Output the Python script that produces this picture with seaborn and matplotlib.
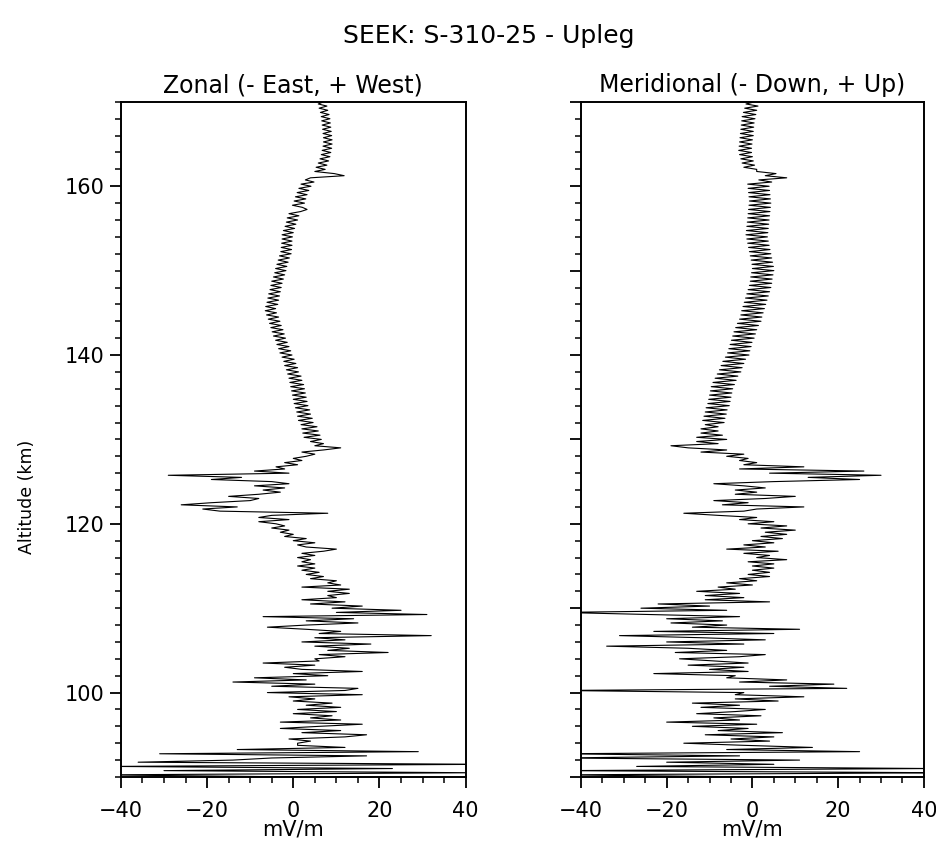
import numpy as np
import matplotlib
matplotlib.use("Agg")
import matplotlib.pyplot as plt
from matplotlib.ticker import MultipleLocator, NullFormatter
import seaborn as sns

sns.set_style("ticks")
plt.rcParams['font.family'] = ['DejaVu Sans']
plt.rcParams['text.color'] = 'black'
plt.rcParams['axes.labelcolor'] = 'black'
plt.rcParams['xtick.color'] = 'black'
plt.rcParams['ytick.color'] = 'black'

# altitude grid (km), one sample every 0.25 km
altitude = np.arange(90, 170.001, 0.25)

# zonal field (mV/m), 8 samples = 2 km per row
zonal = [
    2, -45, 42, -30, 23, -42, 45, -36,          # 90
    -14, -5, 17, -31, 29, -13, 12, 1,           # 92
    1, 4, -1, 12, 17, 2, 11, -3,                # 94
    6, 16, -3, 11, 4, 9, 0, 10,                 # 96
    1, 11, 3, 9, 0, 5, -1, 16,                  # 98
    -6, 12, 15, -5, 5, -14, 3, -9,              # 100
    8, 0, 16, 2, -2, 5, -7, 6,                  # 102
    5, 12, 6, 22, 8, 13, 5, 18,                 # 104
    2, 12, 5, 32, 6, 11, 3, -6,                 # 106
    3, 15, 3, 14, -7, 31, 10, 25,               # 108
    9, 16, 4, 12, 2, 10, 8, 13,                 # 110
    8, 13, 2, 11, 8, 10, 4, 7,                  # 112
    3, 6, 2, 5, 1, 5, 2, 4,                     # 114
    1, 5, 2, 7, 10, 3, 1, 5,                    # 116
    0, 3, -2, 0, -3, -1, -5, -2,                # 118
    -4, -8, -1, -8, -5, 8, -17, -21,            # 120
    -13, -26, -19, -10, -8, -15, -8, -3,        # 122
    -7, -2, -9, -1, -5, -19, -12, -29,          # 124
    -1, -9, -2, -4, 1, -2, 2, 0,                # 126
    3, 5, 2, 7, 11, 5, 7, 4,                    # 128
    6.5, 2.5, 6.2, 2.2, 5.8, 2.0, 5.5, 1.8,     # 130
    4.6, 1.2, 4.4, 1.0, 4.0, 0.8, 3.8, 0.5,     # 132
    3.4, 0.2, 3.2, 0.0, 3.0, -0.2, 2.8, -0.4,   # 134
    2.6, -0.6, 2.4, -0.8, 2.0, -1.0, 1.8, -1.3, # 136
    1.2, -1.6, 1.0, -2.0, 0.6, -2.2, 0.2, -2.6, # 138
    -0.3, -3.1, -0.6, -3.4, -1.0, -3.8, -1.4, -4.1,  # 140
    -1.8, -4.6, -2.1, -4.9, -2.4, -5.2, -2.8, -5.5,  # 142
    -3.1, -5.8, -3.4, -6.2, -3.9, -6.5, -4.1, -6.4,  # 144
    -3.6, -6.1, -3.4, -5.9, -3.2, -5.7, -3.0, -5.4,  # 146
    -2.8, -5.2, -2.6, -5.0, -2.3, -4.6, -2.0, -4.3,  # 148
    -1.7, -4.1, -1.5, -3.8, -1.2, -3.5, -0.9, -3.2,  # 150
    -0.5, -2.9, -0.4, -2.8, -0.3, -2.7, -0.3, -2.6,  # 152
    -0.2, -2.6, 0.0, -2.3, 0.3, -1.9, 0.6, -1.6,     # 154
    1.0, -1.4, 1.3, -1.0, 1.7, 3.2, 2.1, -0.2,       # 156
    2.6, 0.2, 2.9, 0.5, 3.2, 0.9, 3.6, 1.3,          # 158
    4.1, 1.8, 4.8, 2.8, 4.0, 11.8, 9.5, 5.0,         # 160
    7.4, 5.3, 7.8, 5.8, 8.2, 6.2, 8.5, 6.5,          # 162
    8.7, 6.7, 8.9, 6.9, 9.0, 7.0, 9.0, 7.0,          # 164
    8.9, 6.9, 8.8, 6.8, 8.7, 6.7, 8.6, 6.6,          # 166
    8.5, 6.5, 8.3, 6.3, 8.0, 6.0, 7.8, 5.8,          # 168
    7.0,                                             # 170
]

# meridional field (mV/m)
meridional = [
    2, -45, 45, -45, 42, -27, 5, -20,           # 90
    11, -45, -3, -45, 25, -6, 14, -2,           # 92
    -16, 4, -5, 5, -11, 7, -8, -1,              # 94
    -14, 1, -20, -3, -9, 2, -13, -4,            # 96
    3, -12, -3, -14, 6, -4, 12, -4,             # 98
    -2, -45, 22, 4, 19, -3, 8, -6,              # 100
    -4, -23, -1, -10, -2, -15, -1, -9,          # 102
    -17, -3, 3, -18, -6, -15, -34, -2,          # 104
    -20, 3, -12, -31, 5, -23, 11, -14,          # 106
    -6, -19, -7, -20, -3, -24, -45, -6,         # 108
    -26, -10, -22, 4, -11, -2, -11, -3,         # 110
    -13, -4, -8, 0, -6, 1, -3, 4,               # 112
    -1, 4, 0, 5, 0, 5, -1, 8,                   # 114
    1, 4, -2, 6, -6, 3, -2, 5,                  # 116
    0, 7, 2, 8, 3, 10, 2, 8,                    # 118
    -1, 5, -3, 1, -8, -16, -2, 1,               # 120
    12, -7, -1, -9, 3, 10, -4, 1,               # 122
    -4, 3, -2, -9, 5, 25, 13, 30,               # 124
    4, 26, -3, 12, -2, 1, -3, -1,               # 126
    -6, -2, -12, -6, -15, -19, -8, -13,         # 128
    -6, -13, -7, -12, -8, -12, -8, -11,         # 130
    -6.6, -11.6, -6.4, -11.3, -6.1, -11.0, -5.9, -10.8,  # 132
    -5.4, -10.4, -5.2, -10.2, -5.0, -10.0, -4.8, -9.8,   # 134
    -4.6, -9.6, -4.2, -9.2, -3.8, -8.7, -3.4, -8.2,      # 136
    -2.7, -7.7, -2.4, -7.3, -2.0, -6.9, -1.6, -6.3,      # 138
    -0.8, -5.8, -0.6, -5.5, -0.3, -5.2, -0.1, -4.9,      # 140
    0.4, -4.6, 0.7, -4.3, 1.0, -3.9, 1.4, -3.5,          # 142
    2.0, -3.0, 2.2, -2.7, 2.5, -2.5, 2.8, -2.2,          # 144
    3.1, -1.9, 3.4, -1.6, 3.7, -1.3, 4.0, -1.0,          # 146
    4.3, -0.7, 4.5, -0.5, 4.6, -0.4, 4.8, -0.2,          # 148
    5.0, 0.0, 4.9, -0.1, 4.7, -0.3, 4.5, -0.5,           # 150
    4.3, -0.7, 4.1, -0.9, 3.9, -1.1, 3.7, -1.3,          # 152
    3.5, -1.5, 3.6, -1.4, 3.7, -1.3, 3.8, -1.2,          # 154
    3.9, -1.1, 4.0, -1.0, 4.1, -0.9, 4.2, -0.8,          # 156
    4.3, -0.7, 4.2, -0.8, 4.1, -0.9, 4.0, -1.0,          # 158
    3.9, -1.1, 4.5, 1.5, 8.0, 3.0, 5.5, 1.0,             # 160
    1.0, -2.0, 0.5, -2.4, 0.2, -2.7, 0.0, -3.0,          # 162
    -0.2, -3.2, -0.2, -3.1, -0.1, -3.0, 0.0, -2.9,       # 164
    0.2, -2.8, 0.2, -2.7, 0.3, -2.6, 0.4, -2.5,          # 166
    0.6, -2.4, 0.8, -2.1, 1.0, -1.8, 1.3, -1.5,          # 168
    0.5,                                                 # 170
]

fig = plt.figure(figsize=(9.37, 8.46), dpi=100)
ax1 = fig.add_axes([0.129, 0.0816, 0.368, 0.798])
ax2 = fig.add_axes([0.620, 0.0816, 0.366, 0.798])

panels = [
    (ax1, zonal, "Zonal (- East, + West)"),
    (ax2, meridional, "Meridional (- Down, + Up)"),
]

for ax, vals, title in panels:
    sns.lineplot(x=vals, y=altitude, orient="y", sort=False, estimator=None,
                 color="black", lw=0.8, ax=ax)
    ax.set_xlim(-40, 40)
    ax.set_ylim(90, 170)
    ax.set_title(title, fontsize=17, pad=7)
    ax.set_xlabel("mV/m", fontsize=15, labelpad=-1)
    ax.xaxis.set_major_locator(MultipleLocator(20))
    ax.xaxis.set_minor_locator(MultipleLocator(5))
    ax.yaxis.set_minor_locator(MultipleLocator(2))
    ax.tick_params(which="major", direction="out", length=8, width=1.3,
                   labelsize=15, color="black")
    ax.tick_params(which="minor", direction="out", length=4.5, width=1.1,
                   color="black")
    ax.tick_params(axis="x", pad=9)
    for sp in ax.spines.values():
        sp.set_visible(True)
        sp.set_linewidth(1.4)
        sp.set_color("black")

ax1.yaxis.set_major_locator(MultipleLocator(20))
ax1.set_ylabel("Altitude (km)", fontsize=12.5)
ax1.yaxis.set_label_coords(-0.245, 0.415)

ax2.yaxis.set_major_locator(MultipleLocator(10))
ax2.yaxis.set_major_formatter(NullFormatter())
ax2.set_ylabel("")

fig.text(0.522, 0.958, "SEEK: S-310-25 - Upleg", ha="center", va="center",
         fontsize=18)

fig.savefig("out.png", dpi=100, facecolor="white")
